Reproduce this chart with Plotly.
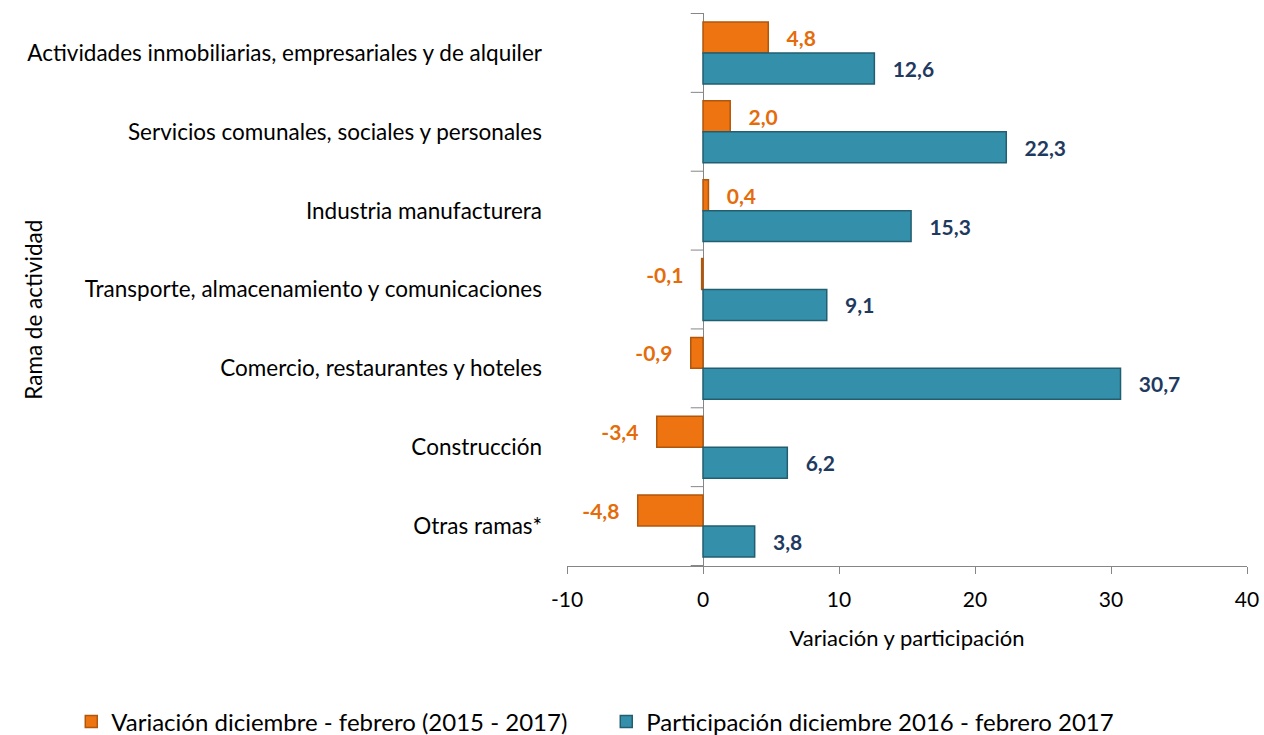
import plotly.graph_objects as go

categorias = ["Actividades inmobiliarias, empresariales y de alquiler",
              "Servicios comunales, sociales y personales",
              "Industria manufacturera",
              "Transporte, almacenamiento y comunicaciones",
              "Comercio, restaurantes y hoteles",
              "Construcción",
              "Otras ramas*"]
variacion = [4.8, 2.0, 0.4, -0.1, -0.9, -3.4, -4.8]
participacion = [12.6, 22.3, 15.3, 9.1, 30.7, 6.2, 3.8]
x_ticks = [-10, 0, 10, 20, 30, 40]
x_tick_text = ["-10", "0", "10", "20", "30", "40"]

font_name = "Lato"
pad = "\u00a0" * 3

def etiqueta(v):
    s = f"{v:.1f}".replace(".", ",")
    return pad + s if v >= 0 else s + pad

fig = go.Figure()
fig.add_trace(go.Bar(y=categorias, x=variacion, orientation="h",
                     name="Variación diciembre - febrero (2015 - 2017)",
                     marker=dict(color="#EE7311", line=dict(color="#B0570C", width=1.5)),
                     text=[etiqueta(v) for v in variacion], textposition="outside",
                     textfont=dict(family=font_name, size=21, color="#E46C0A", weight="bold"),
                     cliponaxis=False))
fig.add_trace(go.Bar(y=categorias, x=participacion, orientation="h",
                     name="Participación diciembre 2016 - febrero 2017",
                     marker=dict(color="#3490AA", line=dict(color="#225E70", width=1.5)),
                     text=[etiqueta(v) for v in participacion], textposition="outside",
                     textfont=dict(family=font_name, size=21, color="#1F3A5F", weight="bold"),
                     cliponaxis=False))

# marcas del eje en x = 0
for i in range(len(categorias) + 1):
    fig.add_shape(type="line", xref="x", yref="y", x0=-0.9, x1=0,
                  y0=i - 0.5, y1=i - 0.5, line=dict(color="#868686", width=1))

fig.add_annotation(text="Rama de actividad", xref="paper", yref="paper",
                   x=-0.807, y=0.463, textangle=-90, showarrow=False,
                   font=dict(family=font_name, size=22.5, color="#000000"))

fig.update_layout(
    width=1264, height=735,
    margin=dict(l=567, r=17, t=13, b=169, autoexpand=False),
    plot_bgcolor="white", paper_bgcolor="white",
    barmode="group", bargap=0.215, bargroupgap=0,
    font=dict(family=font_name, size=22, color="#000000"),
    xaxis=dict(range=[-10, 40], tickvals=x_ticks, ticktext=x_tick_text, showgrid=False,
               zeroline=True, zerolinecolor="#868686", zerolinewidth=1,
               showline=True, linecolor="#868686", ticks="outside", ticklen=7,
               tickcolor="#868686", tickfont=dict(size=21), ticklabelstandoff=8,
               title=dict(text="Variación y participación", font=dict(size=22), standoff=20)),
    yaxis=dict(autorange="reversed", showgrid=False, showline=False, ticks="",
               ticklabelstandoff=24, tickfont=dict(size=22.5)),
    showlegend=True,
    legend=dict(orientation="h", x=-0.729, y=-0.282, xanchor="left", yanchor="middle",
                font=dict(size=24, color="#000000"), entrywidth=490, itemwidth=30),
)

# quitar el margen por defecto del body para que la figura ocupe la ventana
fig.write_html("out.html", config={"displayModeBar": False},
               post_script="document.body.style.margin='0px';")
